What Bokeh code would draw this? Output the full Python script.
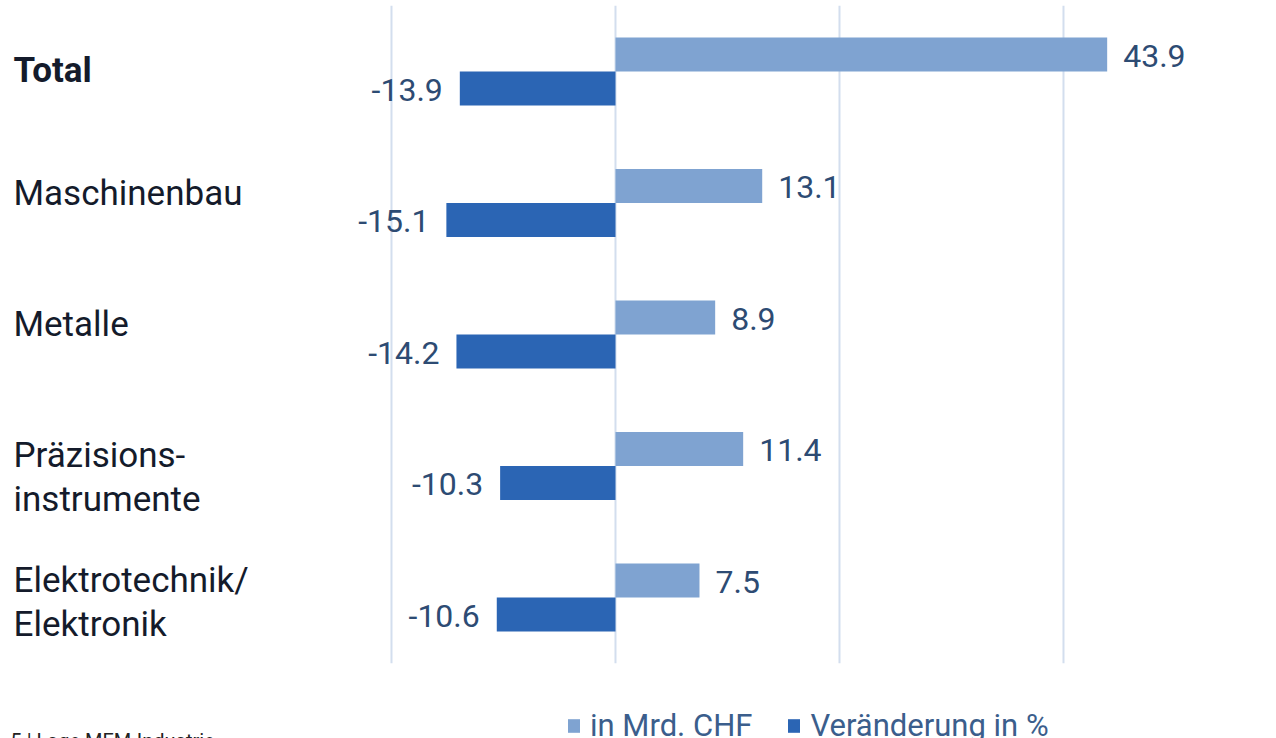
from bokeh.plotting import figure
from bokeh.models import Range1d, ColumnDataSource, Legend, LegendItem
from bokeh.core.properties import value
from bokeh.embed import file_html
from bokeh.resources import INLINE

# ---- data ----
categories = ["Total", "Maschinenbau", "Metalle", "Präzisions-\ninstrumente", "Elektrotechnik/\nElektronik"]
mrd_chf = [43.9, 13.1, 8.9, 11.4, 7.5]
veraenderung = [-13.9, -15.1, -14.2, -10.3, -10.6]
series_names = ["in Mrd. CHF", "Veränderung in %"]
grid_ticks = [-20, 0, 20, 40]
footer_text = "5 | Lage MEM-Industrie"

# ---- styles ----
LIGHT = "#7fa3d1"
DARK = "#2b65b4"
GRID = "#d3deee"
VAL_COLOR = "#2d4b73"
CAT_COLOR = "#141b2b"
LEG_COLOR = "#3b5e8c"
FONT = "Roboto"

W, H = 1260, 738
x_range = Range1d(-54.91, 57.59)
y_range = Range1d(5.072, -0.540)   # reversed: first category at top

p = figure(width=W, height=H, x_range=x_range, y_range=y_range,
           output_backend="svg", toolbar_location=None, min_border=0,
           outline_line_color=None, background_fill_color="white")
p.xaxis.visible = False
p.yaxis.visible = False
p.xgrid.visible = False
p.ygrid.visible = False

n = len(categories)
idx = list(range(n))
bar_h = 0.2586

# gridlines
p.segment(x0=grid_ticks, x1=grid_ticks, y0=[-0.5] * len(grid_ticks), y1=[n - 0.5] * len(grid_ticks),
          line_color=GRID, line_width=2)

src = ColumnDataSource(dict(
    y_light=[i - bar_h / 2 for i in idx],
    y_dark=[i + bar_h / 2 for i in idx],
    light=mrd_chf, dark=veraenderung,
    light_lbl=[f"{v:.1f}" for v in mrd_chf],
    dark_lbl=[f"{v:.1f}" for v in veraenderung],
))

r_light = p.hbar(y="y_light", left=0, right="light", height=bar_h, source=src,
                 fill_color=LIGHT, line_color=None)
r_dark = p.hbar(y="y_dark", left=0, right="dark", height=bar_h, source=src,
                fill_color=DARK, line_color=None)

# value labels
p.text(x="light", y="y_light", text="light_lbl", source=src, x_offset=16, y_offset=1,
       text_align="left", text_baseline="middle", text_font=value(FONT),
       text_font_size="32px", text_color=VAL_COLOR)
p.text(x="dark", y="y_dark", text="dark_lbl", source=src, x_offset=-17, y_offset=1,
       text_align="right", text_baseline="middle", text_font=value(FONT),
       text_font_size="32px", text_color=VAL_COLOR)

# category labels (left aligned)
first_line_shift = [-1, -10, -10, -11, -17]
line_gap = 44
lx, ly, lt, loff, lstyle = [], [], [], [], []
for i, cat in enumerate(categories):
    for k, line in enumerate(cat.split("\n")):
        lx.append(x_range.start)
        ly.append(i)
        lt.append(line)
        loff.append(first_line_shift[i] + k * line_gap)
        lstyle.append("bold" if i == 0 else "normal")
csrc = ColumnDataSource(dict(x=lx, y=ly, t=lt, off=loff, st=lstyle))
p.text(x="x", y="y", text="t", source=csrc, x_offset=13, y_offset="off",
       text_align="left", text_baseline="middle", text_font=value(FONT),
       text_font_size="35px", text_color=CAT_COLOR, text_font_style="st")

# footer
p.text(x=[x_range.start], y=[y_range.start], text=[footer_text], x_offset=10, y_offset=-10,
       text_align="left", text_baseline="top", text_font=value(FONT),
       text_font_size="20px", text_color="#222222")

legend = Legend(items=[LegendItem(label=series_names[0], renderers=[r_light]),
                       LegendItem(label=series_names[1], renderers=[r_dark])],
                orientation="horizontal", location=(566, -6), padding=0, margin=0,
                spacing=34, glyph_width=15, glyph_height=17, label_standoff=9,
                label_text_font=FONT, label_text_font_size="31px",
                label_text_color=LEG_COLOR, background_fill_alpha=0,
                border_line_alpha=0)
p.add_layout(legend)

open("out.html", "w").write(file_html(p, INLINE))
